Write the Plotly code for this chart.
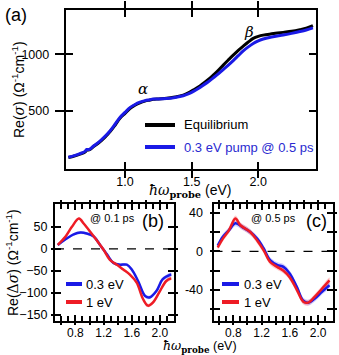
import plotly.graph_objects as go

# ---------------- data ----------------
# panel (a): Re(sigma)
a_x_eq = [0.575, 0.62, 0.662, 0.70, 0.713, 0.73, 0.762, 0.812, 0.85, 0.887, 0.925, 0.962, 1.0, 1.037, 1.075, 1.112, 1.15, 1.187, 1.21, 1.25, 1.312, 1.375, 1.437, 1.475, 1.512, 1.55, 1.587, 1.625, 1.662, 1.70, 1.737, 1.775, 1.812, 1.85, 1.887, 1.925, 1.962, 2.0, 2.037, 2.1, 2.187, 2.25, 2.312, 2.36, 2.41]
a_y_eq = [92, 105, 121, 140, 156, 158, 185, 229, 270, 317, 375, 436, 480, 523, 552, 573, 588, 597, 603, 607, 612, 624, 641, 660, 685, 712, 744, 778, 817, 860, 905, 950, 993, 1035, 1072, 1108, 1140, 1158, 1169, 1180, 1193, 1203, 1217, 1230, 1252]
a_x_pump = [0.575, 0.62, 0.662, 0.70, 0.713, 0.73, 0.762, 0.812, 0.85, 0.887, 0.925, 0.962, 1.0, 1.037, 1.075, 1.112, 1.15, 1.187, 1.21, 1.25, 1.312, 1.375, 1.437, 1.475, 1.512, 1.55, 1.587, 1.625, 1.662, 1.70, 1.737, 1.775, 1.812, 1.85, 1.887, 1.925, 1.962, 2.0, 2.037, 2.1, 2.187, 2.25, 2.312, 2.36, 2.41]
a_y_pump = [94, 108, 125, 145, 162, 162, 190, 236, 278, 325, 384, 444, 488, 530, 558, 578, 592, 600, 606, 606, 610, 620, 635, 651, 673, 698, 728, 758, 792, 828, 866, 905, 945, 988, 1030, 1065, 1095, 1118, 1135, 1152, 1170, 1184, 1200, 1214, 1232]

# panel (b): Re(dsigma) @ 0.1 ps
b_x_03 = [0.55, 0.66, 0.776, 0.87, 0.96, 1.06, 1.15, 1.25, 1.34, 1.43, 1.53, 1.60, 1.69, 1.79, 1.86, 1.95, 2.04, 2.16]
b_y_03 = [9, 22, 33, 37, 35, 28, 9, -13, -32, -36, -36, -47, -73, -107, -110, -96, -69, -58]
b_e_03 = [3, 3, 3, 3, 3, 3, 3, 3, 3, 3, 3, 3, 3, 4, 4, 4, 4, 4]
b_x_1 = [0.55, 0.66, 0.75, 0.85, 0.92, 1.01, 1.10, 1.20, 1.29, 1.39, 1.48, 1.57, 1.67, 1.76, 1.83, 1.90, 1.99, 2.09, 2.16]
b_y_1 = [9, 28, 50, 69, 57, 39, 20, -2, -25, -36, -47, -58, -77, -114, -129, -122, -99, -73, -67]
b_e_1 = [3, 3, 3, 3, 3, 3, 3, 3, 3, 3, 3, 3, 3, 4, 4, 4, 4, 4, 4]

# panel (c): Re(dsigma) @ 0.5 ps
c_x_03 = [0.58, 0.65, 0.74, 0.83, 0.93, 1.04, 1.14, 1.23, 1.32, 1.42, 1.51, 1.60, 1.70, 1.79, 1.86, 1.95, 2.05, 2.16]
c_y_03 = [6, 15, 22, 29, 25, 20, 13, 3, -9, -14, -16, -23, -37, -51, -53, -49, -42, -35]
c_e_03 = [3, 3, 3, 3, 3, 3, 3, 3, 3, 3, 3, 3, 3, 3, 3, 3, 3, 3]
c_x_1 = [0.58, 0.65, 0.74, 0.83, 0.90, 1.04, 1.14, 1.23, 1.32, 1.42, 1.51, 1.60, 1.70, 1.79, 1.86, 1.95, 2.05, 2.16]
c_y_1 = [4, 13, 22, 34, 27, 20, 11, 1, -11, -16, -20, -27, -40, -52, -53, -47, -39, -30]
c_e_1 = [3, 3, 3, 3, 3, 3, 3, 3, 3, 3, 3, 3, 3, 3, 3, 3, 3, 3]

a_xticks = [1.0, 1.5, 2.0]
a_yticks = [500, 1000]
bc_xticks = [0.8, 1.2, 1.6, 2.0]
b_yticks = [50, 0, -50, -100, -150]
c_yticks = [40, 20, 0, -20, -40, -60]
c_yticktext = ["40", "", "0", "", "-40", ""]

# ---------------- layout helpers ----------------
W, H = 339, 355
def px(v):
    return v / W
def py(v):
    return 1 - v / H

BLACK = "#000000"
BLUE = "#1a1ae6"
RED = "#ee1c25"
FONT = "Liberation Sans, Arial, sans-serif"
SERIF = "DejaVu Serif"

fig = go.Figure()

def band(x, y, e, color, xa, ya):
    up = [yy + ee for yy, ee in zip(y, e)]
    lo = [yy - ee for yy, ee in zip(y, e)]
    fig.add_trace(go.Scatter(x=x + x[::-1], y=up + lo[::-1], fill="toself",
                             fillcolor=color, line=dict(width=0), mode="lines",
                             line_shape="spline", hoverinfo="skip",
                             xaxis=xa, yaxis=ya, showlegend=False))

# panel (a)
fig.add_trace(go.Scatter(x=a_x_eq, y=a_y_eq, mode="lines", line=dict(color=BLACK, width=3, shape="spline"),
                         xaxis="x", yaxis="y", showlegend=False))
fig.add_trace(go.Scatter(x=a_x_pump, y=a_y_pump, mode="lines", line=dict(color=BLUE, width=3, shape="spline"),
                         xaxis="x", yaxis="y", showlegend=False))

# panel (b)
band(b_x_03, b_y_03, b_e_03, "rgba(60,60,255,0.30)", "x2", "y2")
band(b_x_1, b_y_1, b_e_1, "rgba(255,60,60,0.30)", "x2", "y2")
fig.add_trace(go.Scatter(x=b_x_03, y=b_y_03, mode="lines", line=dict(color=BLUE, width=2.5, shape="spline"),
                         xaxis="x2", yaxis="y2", showlegend=False))
fig.add_trace(go.Scatter(x=b_x_1, y=b_y_1, mode="lines", line=dict(color=RED, width=2.5, shape="spline"),
                         xaxis="x2", yaxis="y2", showlegend=False))

# panel (c)
band(c_x_03, c_y_03, c_e_03, "rgba(90,90,255,0.28)", "x3", "y3")
band(c_x_1, c_y_1, c_e_1, "rgba(255,80,80,0.28)", "x3", "y3")
fig.add_trace(go.Scatter(x=c_x_03, y=c_y_03, mode="lines", line=dict(color=BLUE, width=2.5, shape="spline"),
                         xaxis="x3", yaxis="y3", showlegend=False))
fig.add_trace(go.Scatter(x=c_x_1, y=c_y_1, mode="lines", line=dict(color=RED, width=2.5, shape="spline"),
                         xaxis="x3", yaxis="y3", showlegend=False))

# dummy traces for overlay (outward tick) axes
for xa, ya in [("x", "y4"), ("x5", "y5"), ("x6", "y6")]:
    fig.add_trace(go.Scatter(x=[None], y=[None], xaxis=xa, yaxis=ya, showlegend=False, hoverinfo="skip"))

tickfont = dict(family=FONT, size=12.5, color="black")
tickfont_bc = dict(family=FONT, size=12, color="black")
common = dict(showgrid=False, zeroline=False, showline=True, linecolor="black", linewidth=2,
              ticks="inside", tickcolor="black", tickwidth=1.5, mirror="allticks")

a_xr = [0.555, 2.433]; a_yr = [-10, 1390]
b_xr = [0.51, 2.20]; b_yr = [-164, 102]
c_xr = [0.52, 2.21]; c_yr = [-72, 49]

dom_a_x = [px(65.7), px(316)]; dom_a_y = [py(169), py(10)]
dom_b_x = [px(55), px(174)]; dom_b_y = [py(321), py(204)]
dom_c_x = [px(213.5), px(333)]; dom_c_y = [py(321), py(204)]

fig.update_layout(
    width=W, height=H, margin=dict(l=0, r=0, t=0, b=0),
    paper_bgcolor="white", plot_bgcolor="rgba(0,0,0,0)",
    font=dict(family=FONT, color="black"),
    xaxis=dict(domain=dom_a_x, range=a_xr, anchor="y", tickvals=a_xticks, ticktext=["1.0", "1.5", "2.0"],
               ticklen=7, ticklabelstandoff=0, tickfont=tickfont, **common),
    yaxis=dict(domain=dom_a_y, range=a_yr, anchor="x", tickvals=a_yticks, ticklen=7, ticklabelstandoff=12,
               tickfont=tickfont, **common),
    yaxis4=dict(domain=dom_a_y, range=a_yr, anchor="x", overlaying="y", tickvals=a_yticks, ticks="outside",
                ticklen=10, tickwidth=1.5, tickcolor="black", showticklabels=False, showline=False,
                showgrid=False, zeroline=False, side="left"),
    xaxis2=dict(domain=dom_b_x, range=b_xr, anchor="y2", tickvals=bc_xticks, ticktext=["0.8", "1.2", "1.6", "2.0"],
                ticklen=6, ticklabelstandoff=0, tickfont=tickfont_bc,
                minor=dict(dtick=0.1, tick0=0, ticks="inside", ticklen=5, tickcolor="black", tickwidth=1.5),
                **common),
    yaxis2=dict(domain=dom_b_y, range=b_yr, anchor="x2", tickvals=b_yticks, ticklen=6, ticklabelstandoff=3,
                tickfont=tickfont, **common),
    xaxis5=dict(domain=dom_b_x, range=b_xr, anchor="y2", overlaying="x2", tickvals=[0.6, 0.8, 1.0, 1.2, 1.4, 1.6, 1.8, 2.0],
                ticks="outside", ticklen=3, tickwidth=1.5, tickcolor="black", mirror="allticks",
                showticklabels=False, showline=False, showgrid=False, zeroline=False),
    yaxis5=dict(domain=dom_b_y, range=b_yr, anchor="x2", overlaying="y2", tickvals=b_yticks, ticks="outside",
                ticklen=3, tickwidth=1.5, tickcolor="black", mirror="allticks",
                showticklabels=False, showline=False, showgrid=False, zeroline=False),
    xaxis3=dict(domain=dom_c_x, range=c_xr, anchor="y3", tickvals=bc_xticks, ticktext=["0.8", "1.2", "1.6", "2.0"],
                ticklen=6, ticklabelstandoff=0, tickfont=tickfont_bc,
                minor=dict(dtick=0.1, tick0=0, ticks="inside", ticklen=5, tickcolor="black", tickwidth=1.5),
                **common),
    yaxis3=dict(domain=dom_c_y, range=c_yr, anchor="x3", tickvals=c_yticks, ticktext=c_yticktext, ticklen=6,
                ticklabelstandoff=6, tickfont=tickfont, **common),
    xaxis6=dict(domain=dom_c_x, range=c_xr, anchor="y3", overlaying="x3", tickvals=[0.6, 0.8, 1.0, 1.2, 1.4, 1.6, 1.8, 2.0],
                ticks="outside", ticklen=3, tickwidth=1.5, tickcolor="black", mirror="allticks",
                showticklabels=False, showline=False, showgrid=False, zeroline=False),
    yaxis6=dict(domain=dom_c_y, range=c_yr, anchor="x3", overlaying="y3", tickvals=c_yticks, ticks="outside",
                ticklen=3, tickwidth=1.5, tickcolor="black", mirror="allticks",
                showticklabels=False, showline=False, showgrid=False, zeroline=False),
)

# dashed zero lines
for xr, yr in [("x2 domain", "y2"), ("x3 domain", "y3")]:
    fig.add_shape(type="line", xref=xr, yref=yr, x0=0, x1=1, y0=0, y1=0,
                  line=dict(color="black", width=1.3, dash="dash"))

# legend-like keys (paper coords)
def key(x0, x1, y, color, width):
    fig.add_shape(type="line", xref="paper", yref="paper", x0=px(x0), x1=px(x1), y0=py(y), y1=py(y),
                  line=dict(color=color, width=width))

def text(x, y, s, size=13, color="black", xanchor="left", family=FONT, textangle=0):
    fig.add_annotation(xref="paper", yref="paper", x=px(x), y=py(y), text=s, showarrow=False,
                       xanchor=xanchor, yanchor="middle", textangle=textangle,
                       font=dict(family=family, size=size, color=color))

key(145, 175, 125, BLACK, 4)
key(145, 175, 147, BLUE, 4)
text(182, 125, "Equilibrium", 13)
text(182, 147, "0.3 eV pump @ 0.5 ps", 13, color="#2a2ad0")

key(66, 82, 284, BLUE, 4)
key(66, 82, 302, RED, 4)
text(84, 284, "0.3 eV", 13)
text(84, 302, "1 eV", 13)

key(222, 239, 284, BLUE, 4)
key(222, 239, 302, RED, 4)
text(242, 284, "0.3 eV", 13)
text(242, 302, "1 eV", 13)

# panel labels
text(3, 15, "(a)", 18)
text(153, 221, "(b)", 18, xanchor="center")
text(316, 221, "(c)", 18, xanchor="center")
text(112, 218, "@ 0.1 ps", 11, xanchor="center")
text(273, 218, "@ 0.5 ps", 11, xanchor="center")

# greek labels
fig.add_annotation(xref="x", yref="y", x=1.135, y=693, text="<i>α</i>", showarrow=False,
                   font=dict(family=SERIF, size=15, color="black"))
fig.add_annotation(xref="x", yref="y", x=1.93, y=1195, text="<i>β</i>", showarrow=False,
                   font=dict(family=SERIF, size=15, color="black"))

# axis titles
xt = ('<span style="font-family:DejaVu Serif"><i>ħω</i></span>'
      '<sub><span style="font-family:DejaVu Serif"><b>probe</b></span></sub> (eV)')
text(190, 191, xt, 14, xanchor="center")
text(200, 346.5, xt, 12.5, xanchor="center")
text(18, 90, 'Re(<span style="font-family:DejaVu Serif"><i>σ</i></span>) (Ω<sup>-1</sup>cm<sup>-1</sup>)', 14,
     xanchor="center", textangle=-90)
text(12, 263, 'Re(<span style="font-family:DejaVu Serif">Δ<i>σ</i></span>) (Ω<sup>-1</sup>cm<sup>-1</sup>)', 14,
     xanchor="center", textangle=-90)

fig.write_html("out.html")
